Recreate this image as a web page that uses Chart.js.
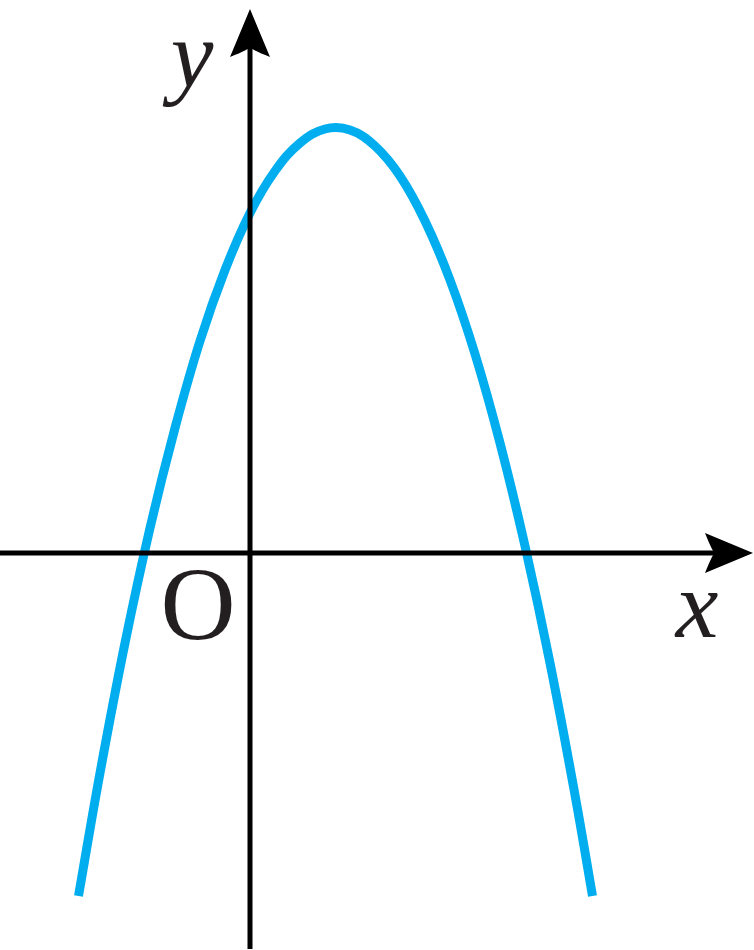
<!DOCTYPE html>
<html>
<head>
<meta charset="utf-8">
<script src="https://cdn.jsdelivr.net/npm/chart.js@4.4.1/dist/chart.umd.min.js"></script>
<style>
    html, body { margin: 0; padding: 0; background: #ffffff; }
    #wrap { position: relative; width: 754px; height: 950px; }
</style>
</head>
<body>
<div id="wrap"><canvas id="parabolaChart"></canvas></div>
<script>
// points (x, y in axis units, 1 unit = 100px)
var curveX = [-1.715, -1.5, -1.25, -1.0, -0.75, -0.5, -0.25, 0, 0.25, 0.5, 0.75,
              1.0, 1.25, 1.5, 1.75, 2.0, 2.25, 2.5, 2.75, 3.0, 3.25, 3.425];
var curveY = [-3.43, -2.20, -0.90, 0.25, 1.25, 2.12, 2.83, 3.40, 3.82, 4.10, 4.24,
              4.23, 4.07, 3.77, 3.32, 2.73, 1.99, 1.10, 0.07, -1.10, -2.42, -3.43];

// visible window and axis extents
var xRange = [-2.5, 5.04];
var yRange = [-3.97, 5.53];
var xAxisEnd = 5.03;
var yAxisEnd = 5.44;
var yAxisStart = -3.96;

var axisLabels = { x: "x", y: "y", origin: "O" };

var points = [];
for (var i = 0; i < curveX.length; i++) {
    points.push({ x: curveX[i], y: curveY[i] });
}

function arrowHead(ctx, tipX, tipY, dirX, dirY) {
    // dir is unit vector pointing to the tip
    var len = 48, half = 20, notch = 38;
    var nx = -dirY, ny = dirX;
    var bx = tipX - dirX * len, by = tipY - dirY * len;
    var cx = tipX - dirX * notch, cy = tipY - dirY * notch;
    ctx.beginPath();
    ctx.moveTo(tipX, tipY);
    ctx.lineTo(bx + nx * half, by + ny * half);
    ctx.quadraticCurveTo(cx - dirX * 2, cy - dirY * 2, cx, cy);
    ctx.quadraticCurveTo(cx - dirX * 2, cy - dirY * 2, bx - nx * half, by - ny * half);
    ctx.closePath();
    ctx.fill();
}

var axesPlugin = {
    id: "axesPlugin",
    afterDatasetsDraw: function(chart) {
        var ctx = chart.ctx;
        var sx = chart.scales.x, sy = chart.scales.y;
        var x0 = sx.getPixelForValue(0), y0 = sy.getPixelForValue(0);
        var xl = sx.getPixelForValue(xRange[0]), xr = sx.getPixelForValue(xAxisEnd);
        var yt = sy.getPixelForValue(yAxisEnd), yb = sy.getPixelForValue(yAxisStart);

        ctx.save();
        ctx.strokeStyle = "#000000";
        ctx.fillStyle = "#000000";
        ctx.lineWidth = 5;
        ctx.beginPath();
        ctx.moveTo(xl, y0);
        ctx.lineTo(xr - 30, y0);
        ctx.moveTo(x0, yb);
        ctx.lineTo(x0, yt + 30);
        ctx.stroke();
        arrowHead(ctx, xr, y0, 1, 0);
        arrowHead(ctx, x0, yt, 0, -1);

        ctx.fillStyle = "#231f20";
        ctx.textAlign = "center";
        ctx.textBaseline = "alphabetic";
        ctx.font = "italic 96px 'Liberation Serif'";
        ctx.fillText(axisLabels.y, x0 - 58, sy.getPixelForValue(4.66));
        ctx.fillText(axisLabels.x, sx.getPixelForValue(4.47), sy.getPixelForValue(-0.84));
        ctx.font = "104px 'Liberation Serif'";
        ctx.fillText(axisLabels.origin, sx.getPixelForValue(-0.52), sy.getPixelForValue(-0.86));
        ctx.restore();
    }
};

var parabolaChart = new Chart(document.getElementById("parabolaChart"), {
    type: "line",
    data: {
        datasets: [
            {
                label: "curve",
                data: points,
                borderColor: "#00aeef",
                borderWidth: 9,
                borderCapStyle: "butt",
                pointRadius: 0,
                tension: 0.4,
                fill: false
            }
        ]
    },
    options: {
        responsive: true,
        maintainAspectRatio: false,
        animation: false,
        layout: { padding: 0 },
        plugins: { legend: { display: false }, tooltip: { enabled: false } },
        scales: {
            x: { type: "linear", min: xRange[0], max: xRange[1], display: false },
            y: { type: "linear", min: yRange[0], max: yRange[1], display: false }
        }
    },
    plugins: [axesPlugin]
});
</script>
</body>
</html>
